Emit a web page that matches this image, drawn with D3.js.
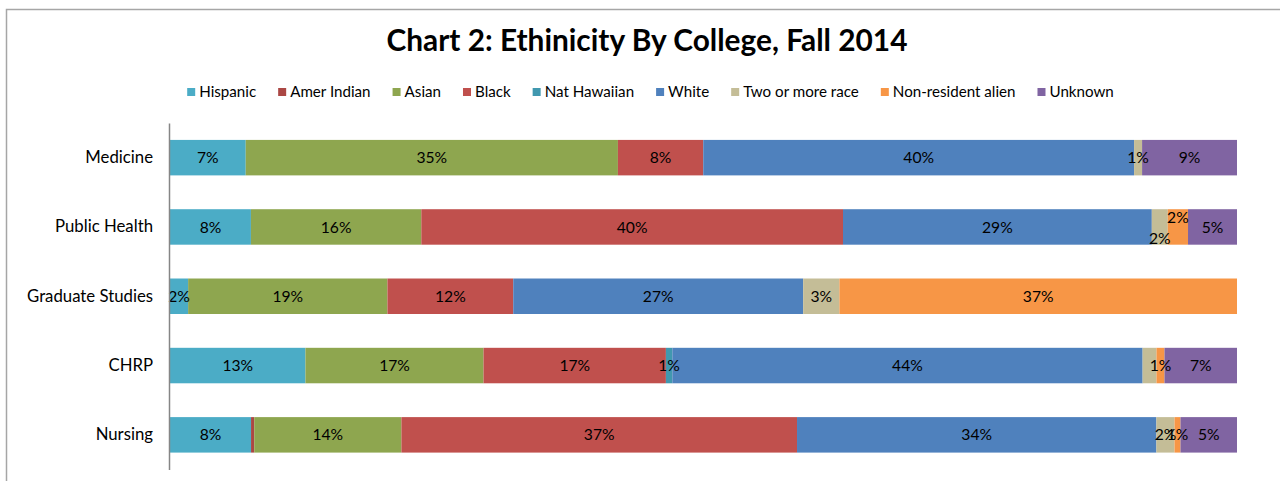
<!DOCTYPE html>
<html><head><meta charset="utf-8">
<script src="https://cdn.jsdelivr.net/npm/d3@7"></script>
<style>html,body{margin:0;padding:0;background:#fff;overflow:hidden}svg{display:block}</style>
</head><body>
<svg id="c" width="1280" height="481"></svg>
<script>
// ---------------- DATA ----------------
const title = "Chart 2: Ethinicity By College, Fall 2014";
const colleges = ["Medicine", "Public Health", "Graduate Studies", "CHRP", "Nursing"];
const seriesNames = ["Hispanic", "Amer Indian", "Asian", "Black", "Nat Hawaiian", "White", "Two or more race", "Non-resident alien", "Unknown"];
// percentages per college (same order as colleges)
const hispanic     = [7.1, 7.6, 1.7, 12.7, 7.6];
const amerIndian   = [0,   0,   0,   0,    0.3];
const asian        = [34.9, 16.0, 18.7, 16.7, 13.8];
const black        = [8.0, 39.6, 11.8, 17.1, 37.1];
const natHawaiian  = [0,   0,   0,   0.6,  0];
const white        = [40.4, 29.0, 27.2, 44.1, 33.7];
const twoOrMore    = [0.75, 1.5, 3.4, 1.3, 1.7];
const nonResident  = [0,   1.9, 37.3, 0.75, 0.56];
const unknown      = [8.9, 4.6, 0,   6.8,  5.3];
const seriesValues = [hispanic, amerIndian, asian, black, natHawaiian, white, twoOrMore, nonResident, unknown];

// ---------------- STYLE ----------------
const colors = ["#4BACC6", "#AB4744", "#8EA64F", "#C0504D", "#4198AF", "#4F81BD", "#C4BD97", "#F79646", "#8064A2"];
const FONT = "Lato, 'Open Sans', sans-serif";
const hiddenLabels = [["CHRP", "Two or more race"]];
const labelNudge = [["Public Health", "Two or more race", 11], ["Public Health", "Non-resident alien", -10]];

const svg = d3.select("#c");

function fitSize(text, weight, target) {
  const t = svg.append("text").attr("font-family", FONT).attr("font-weight", weight)
    .attr("font-size", 100).text(text);
  const w = t.node().getComputedTextLength();
  t.remove();
  return 100 * target / w;
}
const titleSize = fitSize(title, "bold", 521);
const legendSize = fitSize("Hispanic", "normal", 57);
const catSize = fitSize("Graduate Studies", "normal", 126);
const lblSize = fitSize("27%", "normal", 30.7);

// frame
svg.append("rect").attr("x", 6.5).attr("y", 9.5).attr("width", 1400).attr("height", 600)
  .attr("fill", "none").attr("stroke", "#A6A6A6").attr("stroke-width", 1.5);

// title
svg.append("text").attr("x", 647).attr("y", 51).attr("text-anchor", "middle")
  .attr("font-family", FONT).attr("font-weight", "bold").attr("font-size", titleSize)
  .attr("fill", "#000").text(title);

// scales
const x = d3.scaleLinear().domain([0, 100]).range([170, 1237]);
const y = d3.scaleBand().domain(colleges).range([123, 469.5]).paddingInner(0.488).paddingOuter(0.244);

// stack (100% normalised per college)
const rows = colleges.map((c, i) => {
  const r = { college: c };
  seriesNames.forEach((s, j) => r[s] = seriesValues[j][i]);
  return r;
});
const stacked = d3.stack().keys(seriesNames).offset(d3.stackOffsetExpand)(rows);

const g = svg.append("g");
stacked.forEach((layer, j) => {
  g.selectAll(null).data(layer.filter(d => d.data[layer.key] > 0)).enter().append("rect")
    .attr("x", d => x(d[0] * 100))
    .attr("width", d => x(d[1] * 100) - x(d[0] * 100))
    .attr("y", d => y(d.data.college))
    .attr("height", y.bandwidth())
    .attr("fill", colors[j]);
});

// data labels
stacked.forEach((layer, j) => {
  layer.forEach(d => {
    const v = d.data[layer.key];
    if (Math.round(v) < 1) return;
    if (hiddenLabels.some(h => h[0] === d.data.college && h[1] === layer.key)) return;
    const n = labelNudge.find(h => h[0] === d.data.college && h[1] === layer.key);
    const dy = n ? n[2] : 0;
    svg.append("text")
      .attr("x", (x(d[0] * 100) + x(d[1] * 100)) / 2)
      .attr("y", y(d.data.college) + y.bandwidth() / 2 + dy)
      .attr("dy", "0.36em")
      .attr("text-anchor", "middle").attr("font-family", FONT).attr("font-size", lblSize)
      .attr("fill", "#000").text(Math.round(v) + "%");
  });
});

// y axis
const yAxis = d3.axisLeft(y).tickSize(0).tickPadding(16);
const ax = svg.append("g").attr("transform", "translate(169,0)").call(yAxis);
ax.select(".domain").attr("stroke", "#868686").attr("stroke-width", 1.5);
ax.selectAll(".tick text").attr("font-family", FONT).attr("font-size", catSize).attr("fill", "#000");

// legend
const lg = svg.append("g");
let cx = 0;
const items = [];
seriesNames.forEach((s, j) => {
  const it = lg.append("g");
  it.append("rect").attr("x", 0).attr("y", -4).attr("width", 8).attr("height", 8).attr("fill", colors[j]);
  const t = it.append("text").attr("x", 12).attr("y", 0).attr("dy", "0.35em")
    .attr("font-family", FONT).attr("font-size", legendSize).attr("fill", "#000").text(s);
  const w = 12 + t.node().getComputedTextLength();
  it.attr("transform", `translate(${cx},92)`);
  items.push(it);
  cx += w + 22;
});
const totalW = cx - 22;
lg.attr("transform", `translate(${650.5 - totalW / 2},0)`);
</script>
</body></html>
